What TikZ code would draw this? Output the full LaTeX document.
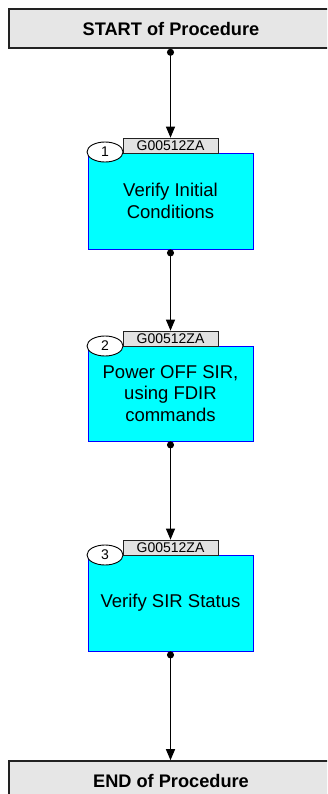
\documentclass[tikz,border=0pt]{standalone}
\usepackage{fontspec}
\setmainfont{Liberation Sans}
\usetikzlibrary{arrows.meta,shapes.geometric}
\definecolor{boxgray}{HTML}{E6E6E6}
\definecolor{tabgray}{HTML}{E2E2E2}
\definecolor{stepcyan}{HTML}{00FFFF}
\definecolor{stepblue}{HTML}{0000FF}
\definecolor{edge}{HTML}{222222}
\begin{document}
\begin{tikzpicture}[x=1pt,y=-1pt,
  termbox/.style={draw=edge,line width=1.6pt,fill=boxgray,minimum width=324pt,minimum height=39pt,inner sep=0pt,font=\fontsize{18.2}{20}\selectfont\bfseries},
  stepbox/.style={draw=stepblue,line width=0.8pt,fill=stepcyan,minimum width=165pt,minimum height=96pt,inner sep=0pt,align=center,font=\fontsize{18.5}{21.5}\selectfont},
  tabbox/.style={draw=edge,line width=0.7pt,fill=tabgray,minimum width=95pt,minimum height=15pt,inner sep=0pt,font=\fontsize{14}{14}\selectfont},
  numoval/.style={ellipse,draw=black,line width=0.9pt,fill=white,minimum width=36pt,minimum height=20pt,inner sep=0pt,font=\fontsize{14}{14}\selectfont},
  flow/.style={line width=1.2pt,{Circle[length=7pt]}-{Triangle[length=11pt,width=9pt]}}
]
\useasboundingbox (0,0) rectangle (327,794);
\clip (0,0) rectangle (327,794);
\node[termbox] (start) at (171,28.5) {START of Procedure};
\node[termbox] (end) at (171,780.5) {END of Procedure};

\node[stepbox] (s1) at (170.5,201) {Verify Initial\\Conditions};
\node[tabbox] (t1) at (170.5,145.5) {G00512ZA};
\node[numoval] (n1) at (105,152) {1};

\node[stepbox,minimum height=95pt] (s2) at (170.5,393.5) {Power OFF SIR,\\using FDIR\\commands};
\node[tabbox] (t2) at (170.5,338.5) {G00512ZA};
\node[numoval] (n2) at (105,346) {2};

\node[stepbox,minimum height=96pt] (s3) at (170.5,603) {Verify SIR Status};
\node[tabbox] (t3) at (170.5,547.5) {G00512ZA};
\node[numoval] (n3) at (105,555) {3};

\draw[flow] (start.south -| t1.north) -- (t1.north);
\draw[flow] (s1.south) -- (t2.north);
\draw[flow] (s2.south) -- (t3.north);
\draw[flow] (s3.south) -- (end.north -| s3.south);
\end{tikzpicture}
\end{document}
